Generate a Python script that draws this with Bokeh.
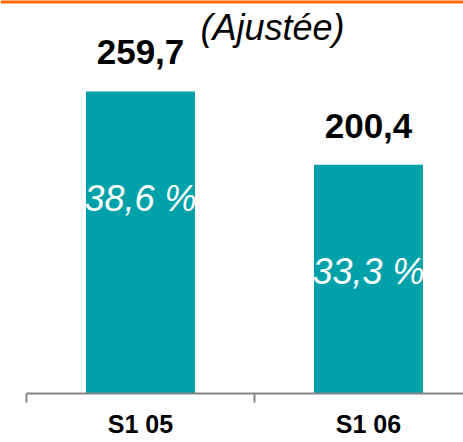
from bokeh.plotting import figure
from bokeh.models import Range1d, FixedTicker, ColumnDataSource, Label, Span
from bokeh.core.properties import value
from bokeh.embed import file_html
from bokeh.resources import INLINE

categories = ["S1 05", "S1 06"]
values = [259.7, 200.4]
value_labels = ["259,7", "200,4"]
pct_labels = ["38,6 %", "33,3 %"]
note = "(Ajustée)"

TEAL = "#00A1A9"
ORANGE = "#FF6A00"
GRAY = "#858585"
FONT = "Liberation Sans"

xs = [i + 0.5 for i in range(len(categories))]
src = ColumnDataSource(dict(x=xs, top=values, vlab=value_labels, plab=pct_labels))

p = figure(width=463, height=442, output_backend="svg", toolbar_location=None,
           x_range=Range1d(-0.114, 1.9167), y_range=Range1d(15.4, 333.3),
           y_axis_location=None, min_border_left=0, min_border_right=0,
           min_border_top=0, min_border_bottom=49)
p.outline_line_color = None
p.xgrid.visible = False
p.ygrid.visible = False
p.background_fill_color = "white"
p.border_fill_color = "white"

# orange rule along the top edge
p.add_layout(Span(location=p.y_range.end, dimension="width", line_color=ORANGE, line_width=6))

p.vbar(x="x", top="top", bottom=0, width=0.478, source=src, fill_color=TEAL, line_color=None)

p.text(x="x", y="top", text="vlab", source=src, text_font=value(FONT), text_font_style="bold",
       text_font_size="35px", text_align="center", text_baseline="alphabetic", y_offset=-39,
       text_color="black")
p.text(x="x", y="top", text="plab", source=src, text_font=value(FONT), text_font_style="italic",
       text_font_size="36px", text_align="center", text_baseline="alphabetic", y_offset=107,
       text_color="white")

p.add_layout(Label(x=xs[0], y=values[0], text=note, x_offset=132, y_offset=64,
                   text_font=FONT, text_font_style="italic", text_font_size="36px",
                   text_align="center", text_baseline="alphabetic", text_color="black"))

ax = p.xaxis[0]
ax.bounds = (0, len(categories))
ax.ticker = FixedTicker(ticks=xs, minor_ticks=list(range(len(categories) + 1)))
ax.major_label_overrides = {x: c for x, c in zip(xs, categories)}
ax.major_tick_line_color = None
ax.major_tick_out = 6
ax.minor_tick_out = 9
ax.minor_tick_in = 0
ax.minor_tick_line_color = GRAY
ax.minor_tick_line_width = 2
ax.axis_line_color = GRAY
ax.axis_line_width = 2
ax.major_label_text_font = FONT
ax.major_label_text_font_style = "bold"
ax.major_label_text_font_size = "25px"
ax.major_label_text_color = "black"
ax.major_label_standoff = 7

open("out.html", "w").write(file_html(p, INLINE))
